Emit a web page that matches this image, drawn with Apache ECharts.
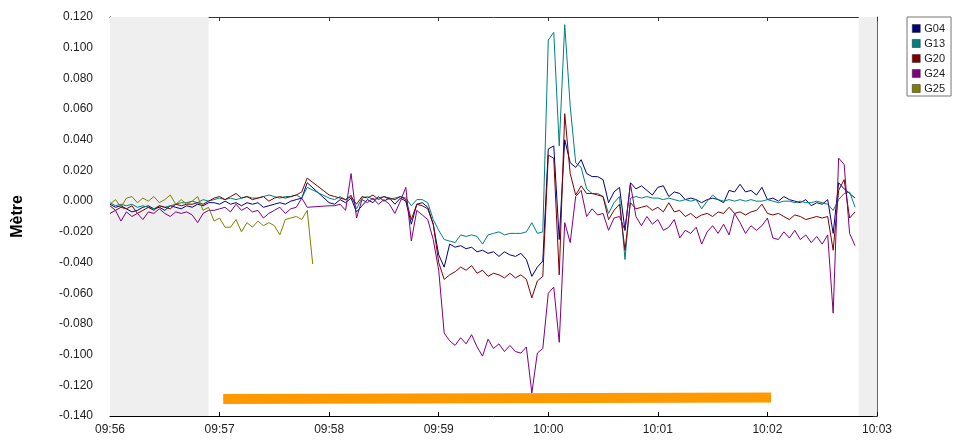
<!DOCTYPE html>
<html><head><meta charset="utf-8">
<script src="https://cdn.jsdelivr.net/npm/echarts@6/dist/echarts.min.js"></script>
<style>html,body{margin:0;padding:0;background:#fff}#c{width:953px;height:441px}</style>
</head><body><div id="c"></div>
<script>
// x tick labels (one per minute, 09:56 .. 10:03)
const tickLabels = ['09:56','09:57','09:58','09:59','10:00','10:01','10:02','10:03'];
const seriesNames = ['G04','G13','G20','G24','G25'];
const seriesColors = ['#000080','#008080','#800000','#800080','#808000'];
// samples every 3 s from 09:56:00
const stepSeconds = 3;

const g04 = [
-0.002,-0.004,-0.003,-0.005,-0.007,-0.006,-0.004,-0.003,-0.005,-0.004,-0.006,-0.003,-0.004,-0.005,-0.003,-0.004,-0.002,-0.003,-0.001,
-0.001,-0.002,0.000,-0.002,-0.001,-0.003,-0.001,-0.002,-0.001,-0.004,-0.003,-0.002,-0.001,-0.002,0.000,0.001,0.002,
0.012,null,null,null,
-0.001,-0.002,0.001,-0.001,0.002,-0.007,-0.003,0.001,-0.001,0.003,0.000,0.002,-0.002,0.002,0.000,-0.015,-0.002,-0.001,-0.004,
-0.015,-0.035,-0.043,-0.028,-0.030,-0.029,-0.031,-0.030,-0.033,-0.032,-0.034,-0.033,-0.036,-0.033,-0.035,-0.036,-0.034,-0.038,-0.049,-0.043,-0.039,
0.034,0.036,-0.025,0.040,0.025,0.022,0.027,0.018,0.016,0.016,0.014,-0.001,0.006,0.009,-0.019,0.012,
0.008,0.010,0.007,0.004,0.009,0.010,0.003,0.006,0.005,0.001,0.002,0.001,-0.001,0.001,0.002,0.001,-0.001,0.007,0.006,0.011,
0.006,0.007,0.004,0.009,0.001,0.002,0.000,0.003,0.001,0.000,-0.001,0.001,-0.003,-0.001,-0.002,0.001,-0.021,0.012,0.008,0.005,0.002
];
const g13 = [
-0.001,-0.003,-0.002,-0.003,-0.002,-0.004,-0.003,-0.004,-0.005,-0.003,-0.004,-0.003,-0.002,-0.001,-0.001,0.000,-0.001,0.001,0.000,
0.001,0.002,0.001,0.002,0.001,0.002,0.003,0.002,0.002,0.003,0.004,0.003,0.002,0.003,0.003,0.004,0.002,
0.009,null,null,null,
0.002,0.001,0.003,0.001,0.004,-0.005,0.002,0.003,0.001,0.002,0.003,0.001,0.002,0.003,0.002,-0.003,0.001,0.001,-0.001,
-0.012,-0.019,-0.025,-0.026,-0.027,-0.022,-0.023,-0.022,-0.023,-0.028,-0.022,-0.021,-0.020,-0.022,-0.021,-0.021,-0.021,-0.020,-0.014,-0.021,-0.020,
0.105,0.110,0.036,0.115,0.062,0.025,0.022,0.008,0.005,0.005,0.003,-0.008,-0.001,0.003,-0.038,0.002,
0.003,0.002,0.003,0.002,0.002,0.001,0.002,0.001,0.000,0.001,0.000,0.001,-0.005,0.000,0.004,0.001,0.000,0.001,0.000,0.001,
0.000,0.001,0.000,0.000,0.001,0.000,-0.001,0.000,0.000,-0.001,0.000,-0.001,-0.001,0.000,-0.001,-0.002,-0.006,0.001,0.005,0.006,-0.004
];
const g20 = [
-0.003,-0.006,-0.004,-0.005,-0.003,-0.008,-0.006,-0.004,-0.006,-0.003,-0.004,-0.005,-0.002,-0.003,-0.002,-0.002,-0.001,-0.002,0.000,
0.002,0.003,0.001,0.003,0.005,0.002,0.003,0.001,0.002,0.003,0.000,0.002,0.003,0.002,0.003,0.004,0.006,
0.015,null,null,null,
0.004,0.003,0.002,0.001,0.003,-0.002,0.003,0.002,0.004,0.001,0.003,0.002,0.001,0.003,0.001,-0.012,-0.002,-0.003,-0.005,
-0.015,-0.040,-0.051,-0.048,-0.046,-0.043,-0.045,-0.042,-0.047,-0.045,-0.049,-0.047,-0.048,-0.050,-0.047,-0.050,-0.048,-0.051,-0.063,-0.052,-0.049,
0.030,0.028,-0.048,0.057,0.018,0.004,0.010,0.005,0.005,0.004,0.003,-0.012,-0.006,-0.002,-0.032,-0.001,
-0.005,-0.004,-0.003,-0.006,-0.004,-0.007,-0.001,-0.007,-0.006,-0.010,-0.008,-0.011,-0.009,-0.008,-0.010,-0.007,-0.008,-0.004,-0.008,-0.007,
-0.009,-0.007,-0.006,-0.002,-0.008,-0.009,-0.008,-0.010,-0.012,-0.009,-0.010,-0.012,-0.011,-0.010,-0.011,-0.010,-0.032,0.007,0.014,-0.011,-0.007
];
const g24 = [
-0.008,-0.006,-0.013,-0.007,-0.010,-0.008,-0.012,-0.007,-0.008,-0.005,-0.008,-0.010,-0.007,-0.008,-0.007,-0.009,-0.014,-0.008,-0.006,
-0.006,-0.005,-0.004,-0.007,-0.002,-0.006,-0.004,-0.007,-0.006,-0.011,-0.008,-0.006,-0.004,-0.008,-0.005,-0.004,0.002,
-0.004,null,null,null,
-0.003,-0.003,-0.002,-0.006,0.018,-0.011,0.001,-0.001,0.002,-0.002,0.001,-0.002,-0.008,0.000,0.009,-0.026,-0.006,-0.009,-0.012,
-0.025,-0.045,-0.086,-0.091,-0.094,-0.089,-0.093,-0.087,-0.095,-0.101,-0.090,-0.096,-0.093,-0.098,-0.094,-0.098,-0.099,-0.095,-0.125,-0.099,-0.096,
-0.060,-0.056,-0.092,-0.014,-0.027,0.003,0.007,-0.010,-0.005,-0.009,-0.008,-0.019,-0.011,-0.010,-0.019,0.011,
-0.010,-0.016,-0.010,-0.015,-0.012,-0.019,-0.017,-0.012,-0.024,-0.019,-0.021,-0.017,-0.028,-0.020,-0.016,-0.021,-0.015,-0.022,-0.008,-0.014,
-0.021,-0.016,-0.019,-0.016,-0.011,-0.024,-0.025,-0.020,-0.024,-0.019,-0.025,-0.022,-0.027,-0.023,-0.028,-0.022,-0.073,0.028,0.024,-0.021,-0.029
];
const g25 = [
-0.002,0.001,-0.004,0.002,0.003,-0.001,0.002,0.000,0.003,-0.001,0.001,0.004,-0.002,0.001,-0.002,0.000,0.003,-0.006,-0.004,
-0.013,-0.011,-0.017,-0.017,-0.012,-0.020,-0.014,-0.017,-0.013,-0.016,-0.014,-0.016,-0.022,-0.012,-0.011,-0.010,-0.012,-0.006,
-0.041
];
// shaded (grey) time ranges, seconds after 09:56:00
const shadedRanges = [[0, 54], [410, 420]];
// orange bar: [seconds, value] at its two ends
const orangeBar = [[62, -0.1289], [362, -0.1279]];

const allValues = [g04, g13, g20, g24, g25];
function toPairs(arr){ return arr.map((v, i) => [i * stepSeconds, v]); }

const chart = echarts.init(document.getElementById('c'), null, {renderer: 'canvas'});
const font = 'Liberation Sans, Arial, sans-serif';

const series = [
  {
    name: 'shade', type: 'line', data: [], z: 0, silent: true,
    markArea: {
      silent: true,
      itemStyle: {color: '#efefef'},
      data: shadedRanges.map(r => [{xAxis: r[0]}, {xAxis: r[1]}])
    }
  },
  {
    name: 'bar', type: 'line', data: orangeBar, z: 1, silent: true,
    showSymbol: false, lineStyle: {color: '#ff9900', width: 10, cap: 'butt'}
  }
];
seriesNames.forEach((n, k) => {
  series.push({
    name: n, type: 'line', data: toPairs(allValues[k]), showSymbol: false,
    connectNulls: true, z: 3 + k,
    itemStyle: {color: seriesColors[k]},
    lineStyle: {color: seriesColors[k], width: 1}
  });
});

chart.setOption({
  animation: false,
  backgroundColor: '#fff',
  grid: {left: 110, right: 76, top: 17, bottom: 25, containLabel: false},
  legend: {
    data: seriesNames, orient: 'vertical', left: 907, top: 17,
    icon: 'rect', itemWidth: 8, itemHeight: 8, itemGap: 4,
    padding: [6, 6, 2, 5], borderColor: '#777', borderWidth: 1, backgroundColor: '#fff',
    textStyle: {fontSize: 11, color: '#222', fontFamily: font, padding: [0, 0, 0, -1]},
    itemStyle: {borderColor: '#222', borderWidth: 0.5}
  },
  xAxis: [
    {
      type: 'value', min: 0, max: 420, interval: 60, position: 'bottom',
      axisLine: {onZero: false, lineStyle: {color: '#000'}},
      axisTick: {inside: true, length: 4, lineStyle: {color: '#000'}},
      axisLabel: {formatter: v => tickLabels[Math.round(v / 60)], color: '#222', fontSize: 12,
                  fontFamily: font, margin: 8, showMinLabel: true, showMaxLabel: true},
      splitLine: {show: false}
    },
    {
      type: 'value', min: 0, max: 420, interval: 60, position: 'top',
      axisLine: {onZero: false, lineStyle: {color: '#333'}},
      axisTick: {inside: true, length: 4, lineStyle: {color: '#333'}},
      axisLabel: {show: false}, splitLine: {show: false}
    }
  ],
  yAxis: [
    {
      type: 'value', min: -0.14, max: 0.12, interval: 0.02, position: 'left',
      name: 'Mètre', nameLocation: 'middle', nameGap: 84,
      nameTextStyle: {fontWeight: 'bold', fontSize: 16, color: '#000', fontFamily: font},
      axisLine: {onZero: false, lineStyle: {color: '#000'}},
      axisTick: {inside: true, length: 4, lineStyle: {color: '#000'}},
      axisLabel: {formatter: v => (Math.abs(v) < 1e-9 ? 0 : v).toFixed(3), color: '#222',
                  fontSize: 12, fontFamily: font, margin: 17},
      splitLine: {show: false}
    },
    {
      type: 'value', min: -0.14, max: 0.12, interval: 0.02, position: 'right',
      axisLine: {onZero: false, show: true, lineStyle: {color: '#666'}},
      axisTick: {show: true, inside: true, length: 4, lineStyle: {color: '#333'}},
      axisLabel: {show: false}, splitLine: {show: false}
    }
  ],
  series: series
});
</script>
</body></html>
